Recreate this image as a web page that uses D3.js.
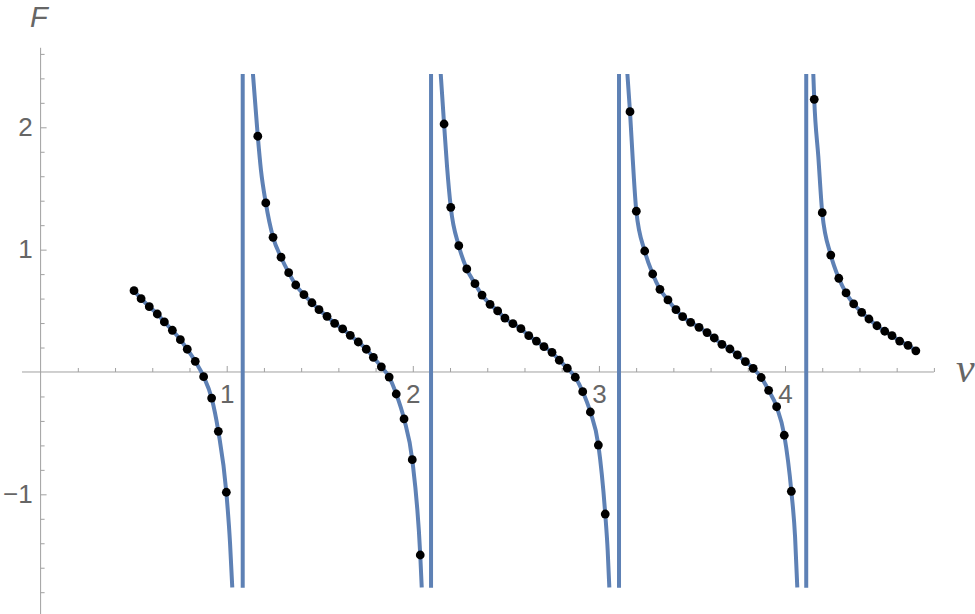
<!DOCTYPE html>
<html>
<head>
<meta charset="utf-8">
<script src="https://cdn.jsdelivr.net/npm/d3@7"></script>
<style>
    body { margin: 0; background: #ffffff; }
    svg { display: block; }
</style>
</head>
<body>
<svg id="pole-plot"></svg>
<script>
const width = 975, height = 614

// sample points (nu, F), one array per branch
const dots1 = [[0.502, 0.665], [0.540, 0.599], [0.584, 0.534], [0.627, 0.474], [0.665, 0.409],
    [0.708, 0.341], [0.751, 0.264], [0.788, 0.186], [0.831, 0.087], [0.876, -0.038],
    [0.919, -0.213], [0.955, -0.485], [0.998, -0.983]]
const dots2 = [[1.167, 1.927], [1.210, 1.382], [1.249, 1.101], [1.292, 0.938], [1.333, 0.812],
    [1.371, 0.711], [1.415, 0.632], [1.458, 0.566], [1.496, 0.509], [1.539, 0.455],
    [1.580, 0.398], [1.623, 0.352], [1.664, 0.300], [1.707, 0.245], [1.750, 0.186],
    [1.788, 0.120], [1.831, 0.042], [1.873, -0.042], [1.911, -0.180], [1.953, -0.384],
    [1.997, -0.717], [2.040, -1.496]]
const dots3 = [[2.168, 2.027], [2.204, 1.346], [2.247, 1.032], [2.290, 0.842], [2.334, 0.722],
    [2.372, 0.629], [2.415, 0.553], [2.456, 0.499], [2.495, 0.441], [2.538, 0.395],
    [2.581, 0.354], [2.623, 0.297], [2.664, 0.253], [2.705, 0.207], [2.748, 0.161],
    [2.787, 0.096], [2.830, 0.031], [2.873, -0.043], [2.913, -0.161], [2.954, -0.327],
    [2.997, -0.597], [3.034, -1.161]]
const dots4 = [[3.167, 2.128], [3.201, 1.314], [3.246, 0.989], [3.289, 0.801], [3.328, 0.676],
    [3.371, 0.589], [3.414, 0.509], [3.450, 0.452], [3.493, 0.406], [3.538, 0.365],
    [3.581, 0.322], [3.620, 0.278], [3.661, 0.226], [3.704, 0.188], [3.744, 0.139],
    [3.787, 0.084], [3.829, 0.030], [3.872, -0.045], [3.912, -0.150], [3.955, -0.284],
    [3.996, -0.517], [4.034, -0.975]]
const dots5 = [[4.157, 2.229], [4.200, 1.302], [4.246, 0.956], [4.289, 0.766], [4.328, 0.646],
    [4.369, 0.556], [4.412, 0.488], [4.451, 0.433], [4.494, 0.378], [4.536, 0.333],
    [4.575, 0.297], [4.616, 0.253], [4.661, 0.218], [4.703, 0.173]]

// extra points of the continuous curve near the poles (where it leaves the plot range)
const curve1 = [[1.018, -1.400], [1.030, -1.763]]
const curve2 = [[1.141, 2.436], [1.184, 1.651], [2.048, -1.763]]
const curve3 = [[2.150, 2.436], [2.184, 1.678], [3.047, -1.455], [3.056, -1.763]]
const curve4 = [[3.153, 2.436], [3.182, 1.733], [4.054, -1.346], [4.066, -1.763]]
const curve5 = [[4.152, 2.436], [4.179, 1.760]]

const poles = [1.086, 2.098, 3.108, 4.114]

const plotRangeF = [-1.763, 2.436]
const xMajor = [1, 2, 3, 4]
const yMajor = [-1, 1, 2]

const branches = [
    [dots1, curve1], [dots2, curve2], [dots3, curve3], [dots4, curve4], [dots5, curve5],
]

const svg = d3.select("svg#pole-plot")
    .attr("viewBox", [0, 0, width, height])
    .attr("width", width)
    .attr("height", height)
    .style("background", "#ffffff")

const xScale = d3.scaleLinear()
    .domain([0, 4.8])
    .range([40.6, 933.9])

const yScale = d3.scaleLinear()
    .domain([-1.8, 2.6])
    .range([592.2, 53.9])

const axisColor = "#a0a0a0"
const labelColor = "#666666"
const fontFamily = "'Liberation Sans', Arial, sans-serif"

// axis lines
svg.append("line")
    .attr("x1", xScale(-0.1)).attr("x2", xScale(4.8))
    .attr("y1", yScale(0)).attr("y2", yScale(0))
    .attr("stroke", axisColor)
    .attr("stroke-width", 1)

svg.append("line")
    .attr("x1", xScale(0)).attr("x2", xScale(0))
    .attr("y1", yScale(2.65)).attr("y2", height)
    .attr("stroke", axisColor)
    .attr("stroke-width", 1)

// ticks (minor every 0.2, major at the integers)
const xMinor = d3.range(1, 25).map(i => i * 0.2).filter(v => Math.abs(v - Math.round(v)) > 1e-6)
const yMinor = d3.range(-9, 14).map(i => i * 0.2).filter(v => Math.abs(v - Math.round(v)) > 1e-6)

const styleAxis = g => {
    g.select(".domain").remove()
    g.selectAll(".tick line").attr("stroke", axisColor)
    g.selectAll(".tick text")
        .attr("fill", labelColor)
        .style("font-family", fontFamily)
        .style("font-size", "26px")
}

svg.append("g")
    .attr("transform", `translate(0, ${yScale(0)})`)
    .call(d3.axisBottom(xScale).tickValues(xMinor).tickFormat("").tickSize(-4))
    .call(styleAxis)

svg.append("g")
    .attr("transform", `translate(0, ${yScale(0)})`)
    .call(d3.axisBottom(xScale).tickValues(xMajor).tickFormat(d3.format("d")).tickSize(-6).tickPadding(13))
    .call(styleAxis)

svg.append("g")
    .attr("transform", `translate(${xScale(0)}, 0)`)
    .call(d3.axisLeft(yScale).tickValues(yMinor).tickFormat("").tickSize(-4))
    .call(styleAxis)

svg.append("g")
    .attr("transform", `translate(${xScale(0)}, 0)`)
    .call(d3.axisLeft(yScale).tickValues(yMajor).tickFormat(d => d < 0 ? "\u2212" + Math.abs(d) : d).tickSize(-6).tickPadding(8))
    .call(styleAxis)

// axis labels
svg.append("text")
    .attr("x", 30)
    .attr("y", 27)
    .attr("fill", labelColor)
    .style("font-family", fontFamily)
    .style("font-style", "italic")
    .style("font-size", "29px")
    .text("F")

svg.append("text")
    .attr("x", 956)
    .attr("y", 382)
    .attr("fill", labelColor)
    .style("font-family", "'Liberation Serif', 'Times New Roman', serif")
    .style("font-style", "italic")
    .style("font-size", "42px")
    .text("\u03bd")

// curve, clipped to the plot range
svg.append("clipPath").attr("id", "plot-clip")
    .append("rect")
    .attr("x", 0)
    .attr("width", width)
    .attr("y", yScale(plotRangeF[1]))
    .attr("height", yScale(plotRangeF[0]) - yScale(plotRangeF[1]))

const line = d3.line()
    .x(d => xScale(d[0]))
    .y(d => yScale(d[1]))
    .curve(d3.curveMonotoneX)

const curveColor = "#5e81b5"

svg.append("g")
    .attr("clip-path", "url(#plot-clip)")
    .selectAll("path.branch")
    .data(branches)
    .join("path").attr("class", "branch")
    .attr("d", d => line(d3.sort(d[0].concat(d[1]), p => p[0])))
    .attr("fill", "none")
    .attr("stroke", curveColor)
    .attr("stroke-width", 4)

svg.selectAll("line.pole")
    .data(poles)
    .join("line").attr("class", "pole")
    .attr("x1", d => xScale(d)).attr("x2", d => xScale(d))
    .attr("y1", yScale(plotRangeF[1]))
    .attr("y2", yScale(plotRangeF[0]))
    .attr("stroke", curveColor)
    .attr("stroke-width", 4)

// sample points
svg.append("g")
    .selectAll("circle.dot")
    .data(branches.flatMap(b => b[0]))
    .join("circle").attr("class", "dot")
    .attr("cx", d => xScale(d[0]))
    .attr("cy", d => yScale(d[1]))
    .attr("r", 4.4)
    .attr("fill", "#000000")
</script>
</body>
</html>
